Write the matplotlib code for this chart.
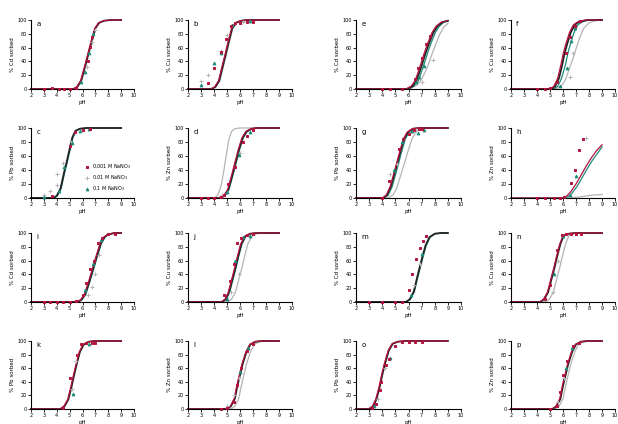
import matplotlib
matplotlib.use("Agg")
import matplotlib.pyplot as plt

# panel layout (row by row, as in the figure)
LAYOUT = [["a", "b", "e", "f"],
          ["c", "d", "g", "h"],
          ["i", "j", "m", "n"],
          ["k", "l", "o", "p"]]

METAL = {"a": "Cd", "b": "Cu", "e": "Cd", "f": "Cu",
         "c": "Pb", "d": "Zn", "g": "Pb", "h": "Zn",
         "i": "Cd", "j": "Cu", "m": "Cd", "n": "Cu",
         "k": "Pb", "l": "Zn", "o": "Pb", "p": "Zn"}

LEGEND_LABELS = ["0.001 M NaNO$_3$", "0.01 M NaNO$_3$", "0.1 M NaNO$_3$"]

# model curves, (pH, % sorbed)
fit_black = {
    "a": ([2, 5.3, 5.6, 5.9, 6.2, 6.45, 6.7, 7.0, 7.3, 7.7, 8.2, 9], [0, 0, 3, 12, 32, 50, 68, 88, 96, 99, 100, 100]),
    "b": ([2, 3.8, 4.1, 4.4, 4.7, 4.9, 5.1, 5.4, 5.7, 6.1, 6.6, 9], [0, 0, 3, 12, 35, 50, 66, 88, 96, 99, 100, 100]),
    "c": ([2, 3.7, 4.0, 4.3, 4.55, 4.75, 4.95, 5.2, 5.45, 5.8, 6.3, 9], [0, 0, 3, 14, 35, 50, 66, 86, 96, 99, 100, 100]),
    "d": ([2, 4.4, 4.8, 5.1, 5.4, 5.65, 5.9, 6.2, 6.5, 6.9, 7.4, 9], [0, 0, 3, 12, 32, 50, 68, 86, 95, 99, 100, 100]),
    "e": ([2, 5.9, 6.3, 6.6, 6.9, 7.1, 7.3, 7.6, 7.9, 8.2, 8.6, 9], [0, 0, 4, 12, 28, 40, 52, 68, 82, 91, 97, 99]),
    "f": ([2, 5.1, 5.4, 5.7, 5.95, 6.1, 6.3, 6.6, 6.9, 7.3, 7.9, 9], [0, 0, 4, 16, 36, 50, 64, 82, 93, 98, 100, 100]),
    "g": ([2, 4.05, 4.35, 4.65, 4.95, 5.15, 5.35, 5.65, 5.95, 6.35, 6.85, 9], [0, 0, 4, 16, 36, 50, 64, 84, 94, 99, 100, 100]),
    "i": ([2, 5.6, 5.9, 6.2, 6.5, 6.85, 7.1, 7.4, 7.7, 8.0, 8.5, 9], [0, 0, 3, 11, 28, 50, 66, 84, 94, 98, 100, 100]),
    "j": ([2, 4.6, 4.9, 5.15, 5.4, 5.65, 5.85, 6.1, 6.4, 6.8, 7.3, 9], [0, 0, 4, 14, 32, 50, 66, 84, 95, 99, 100, 100]),
    "m": ([2, 5.8, 6.1, 6.4, 6.65, 6.85, 7.05, 7.3, 7.6, 8.0, 8.5, 9], [0, 0, 4, 15, 35, 50, 65, 82, 94, 99, 100, 100]),
    "n": ([2, 4.25, 4.55, 4.85, 5.1, 5.35, 5.55, 5.8, 6.05, 6.45, 6.95, 9], [0, 0, 4, 14, 32, 50, 66, 84, 96, 99, 100, 100]),
    "k": ([2, 4.3, 4.6, 4.9, 5.15, 5.35, 5.55, 5.8, 6.1, 6.5, 7.0, 9], [0, 0, 4, 14, 33, 50, 66, 84, 95, 99, 100, 100]),
    "l": ([2, 5.0, 5.3, 5.6, 5.8, 6.0, 6.2, 6.5, 6.8, 7.2, 7.7, 9], [0, 0, 4, 15, 34, 50, 66, 84, 95, 99, 100, 100]),
    "o": ([2, 3.0, 3.3, 3.55, 3.8, 4.0, 4.2, 4.5, 4.8, 5.2, 5.7, 9], [0, 0, 4, 14, 32, 50, 66, 86, 96, 99, 100, 100]),
    "p": ([2, 5.2, 5.5, 5.8, 6.0, 6.2, 6.4, 6.7, 7.0, 7.4, 7.9, 9], [0, 0, 4, 15, 34, 50, 66, 84, 95, 99, 100, 100]),
}
fit_red = {
    "a": ([2, 5.25, 5.55, 5.85, 6.15, 6.4, 6.65, 6.95, 7.25, 7.65, 8.15, 9], [0, 0, 3, 12, 32, 50, 68, 88, 96, 99, 100, 100]),
    "b": ([2, 3.75, 4.05, 4.35, 4.65, 4.85, 5.05, 5.35, 5.65, 6.05, 6.55, 9], [0, 0, 3, 12, 35, 50, 66, 88, 96, 99, 100, 100]),
    "d": ([2, 4.35, 4.75, 5.05, 5.35, 5.6, 5.85, 6.15, 6.45, 6.85, 7.35, 9], [0, 0, 3, 12, 32, 50, 68, 86, 95, 99, 100, 100]),
    "e": ([2, 5.8, 6.2, 6.5, 6.8, 7.0, 7.2, 7.5, 7.8, 8.1, 8.5, 9], [0, 0, 4, 12, 28, 40, 52, 68, 82, 91, 97, 99]),
    "f": ([2, 5.0, 5.3, 5.6, 5.85, 6.0, 6.2, 6.5, 6.8, 7.2, 7.8, 9], [0, 0, 4, 16, 36, 50, 64, 82, 93, 98, 100, 100]),
    "g": ([2, 4.0, 4.3, 4.6, 4.9, 5.1, 5.3, 5.6, 5.9, 6.3, 6.8, 9], [0, 0, 4, 16, 36, 50, 64, 84, 94, 99, 100, 100]),
    "h": ([2, 6.0, 6.3, 6.6, 7.0, 7.4, 7.8, 8.2, 8.6, 9], [0, 0, 3, 9, 20, 33, 46, 58, 68, 76]),
    "i": ([2, 5.55, 5.85, 6.15, 6.45, 6.8, 7.05, 7.35, 7.65, 7.95, 8.45, 9], [0, 0, 3, 11, 28, 50, 66, 84, 94, 98, 100, 100]),
    "j": ([2, 4.55, 4.85, 5.1, 5.35, 5.6, 5.8, 6.05, 6.35, 6.75, 7.25, 9], [0, 0, 4, 14, 32, 50, 66, 84, 95, 99, 100, 100]),
    "n": ([2, 4.2, 4.5, 4.8, 5.05, 5.3, 5.5, 5.75, 6.0, 6.4, 6.9, 9], [0, 0, 4, 14, 32, 50, 66, 84, 96, 99, 100, 100]),
    "k": ([2, 4.25, 4.55, 4.85, 5.1, 5.3, 5.5, 5.75, 6.05, 6.45, 6.95, 9], [0, 0, 4, 14, 33, 50, 66, 84, 95, 99, 100, 100]),
    "l": ([2, 4.95, 5.25, 5.55, 5.75, 5.95, 6.15, 6.45, 6.75, 7.15, 7.65, 9], [0, 0, 4, 15, 34, 50, 66, 84, 95, 99, 100, 100]),
    "o": ([2, 2.95, 3.25, 3.5, 3.75, 3.95, 4.15, 4.45, 4.75, 5.15, 5.65, 9], [0, 0, 4, 14, 32, 50, 66, 86, 96, 99, 100, 100]),
    "p": ([2, 5.15, 5.45, 5.75, 5.95, 6.15, 6.35, 6.65, 6.95, 7.35, 7.85, 9], [0, 0, 4, 15, 34, 50, 66, 84, 95, 99, 100, 100]),
}
fit_teal = {
    "c": ([2, 3.75, 4.05, 4.35, 4.6, 4.8, 5.0, 5.25, 5.5, 5.85, 6.35, 9], [0, 0, 3, 14, 35, 50, 66, 86, 96, 99, 100, 100]),
    "d": ([2, 4.45, 4.85, 5.15, 5.45, 5.7, 5.95, 6.25, 6.55, 6.95, 7.45, 9], [0, 0, 3, 12, 32, 50, 68, 86, 95, 99, 100, 100]),
    "e": ([2, 6.0, 6.4, 6.75, 7.05, 7.25, 7.45, 7.75, 8.05, 8.35, 8.7, 9], [0, 0, 4, 12, 28, 40, 52, 68, 82, 91, 97, 98]),
    "f": ([2, 5.3, 5.6, 5.9, 6.2, 6.35, 6.55, 6.85, 7.15, 7.55, 8.1, 9], [0, 0, 4, 16, 36, 50, 64, 82, 93, 98, 100, 100]),
    "g": ([2, 4.15, 4.45, 4.75, 5.05, 5.25, 5.45, 5.75, 6.05, 6.45, 6.95, 9], [0, 0, 4, 16, 36, 50, 64, 84, 94, 99, 100, 100]),
    "h": ([2, 6.1, 6.4, 6.7, 7.1, 7.5, 7.9, 8.3, 8.7, 9], [0, 0, 2, 7, 17, 30, 43, 55, 65, 73]),
    "i": ([2, 5.65, 5.95, 6.25, 6.55, 6.9, 7.15, 7.45, 7.75, 8.05, 8.55, 9], [0, 0, 3, 11, 28, 50, 66, 84, 94, 98, 100, 100]),
    "j": ([2, 4.65, 4.95, 5.2, 5.45, 5.7, 5.9, 6.15, 6.45, 6.85, 7.35, 9], [0, 0, 4, 14, 32, 50, 66, 84, 95, 99, 100, 100]),
    "m": ([2, 5.85, 6.15, 6.45, 6.7, 6.9, 7.1, 7.35, 7.65, 8.05, 8.55, 9], [0, 0, 4, 15, 35, 50, 65, 82, 94, 99, 100, 100]),
}
fit_gray = {
    "b": ([2, 3.85, 4.15, 4.45, 4.75, 4.95, 5.15, 5.45, 5.75, 6.15, 6.65, 9], [0, 0, 3, 12, 35, 50, 66, 88, 96, 99, 100, 100]),
    "d": ([2, 4.0, 4.3, 4.55, 4.75, 4.85, 4.95, 5.15, 5.35, 5.6, 6.0, 9], [0, 0, 4, 18, 38, 50, 62, 84, 95, 99, 100, 100]),
    "e": ([2, 6.1, 6.6, 7.0, 7.4, 7.6, 7.8, 8.1, 8.4, 8.7, 9], [0, 0, 5, 14, 30, 40, 51, 66, 80, 90, 95]),
    "f": ([2, 5.5, 5.9, 6.2, 6.5, 6.8, 7.0, 7.3, 7.6, 8.0, 8.5, 9], [0, 0, 5, 14, 30, 46, 58, 75, 88, 96, 99, 100]),
    "g": ([2, 4.4, 4.8, 5.1, 5.4, 5.7, 5.95, 6.25, 6.6, 7.0, 7.5, 9], [0, 0, 4, 14, 32, 50, 66, 84, 95, 99, 100, 100]),
    "h": ([2, 6.5, 7.5, 8.2, 9], [0, 0, 2, 4, 5]),
    "j": ([2, 5.05, 5.35, 5.65, 5.9, 6.15, 6.35, 6.6, 6.9, 7.3, 7.8, 9], [0, 0, 4, 14, 32, 50, 66, 84, 95, 99, 100, 100]),
    "n": ([2, 4.65, 4.95, 5.25, 5.5, 5.75, 5.95, 6.2, 6.45, 6.85, 7.35, 9], [0, 0, 4, 14, 32, 50, 66, 84, 96, 99, 100, 100]),
    "l": ([2, 5.3, 5.6, 5.9, 6.1, 6.3, 6.5, 6.8, 7.1, 7.5, 8.0, 9], [0, 0, 4, 15, 34, 50, 66, 84, 95, 99, 100, 100]),
    "p": ([2, 5.4, 5.7, 6.0, 6.2, 6.4, 6.6, 6.9, 7.2, 7.6, 8.1, 9], [0, 0, 4, 15, 34, 50, 66, 84, 95, 99, 100, 100]),
}

# measured data, (pH, % sorbed)
pts_red = {
    "a": ([3.0, 3.6, 4.2, 4.6, 5.0, 5.5, 6.4, 6.55, 6.75], [0, 1, 0, 0, 0, 1, 40, 61, 76]),
    "b": ([3.5, 4.0, 4.5, 4.9, 5.3, 5.6, 6.0, 6.5, 7.0], [8, 30, 53, 72, 92, 95, 96, 97, 97]),
    "c": ([3.6, 5.0, 5.4, 6.0, 6.6], [3, 75, 95, 97, 98]),
    "d": ([3.0, 3.5, 4.0, 4.5, 4.8, 5.1, 5.6, 6.2, 6.5, 7.0], [0, 0, 0, 2, 5, 20, 45, 80, 88, 97]),
    "e": ([4.0, 4.6, 5.5, 6.5, 6.7, 7.0, 7.3, 7.6], [0, 0, 0, 15, 30, 45, 65, 77]),
    "f": ([4.0, 4.6, 5.0, 5.5, 6.2, 6.5, 6.9, 7.3], [0, 0, 2, 10, 52, 75, 92, 98]),
    "g": ([4.0, 4.5, 5.3, 5.6, 6.0, 6.4, 6.8, 7.0], [0, 25, 70, 85, 92, 97, 98, 98]),
    "h": ([4.0, 4.6, 5.3, 5.8, 6.1, 6.6, 6.9, 7.2, 7.5], [0, 0, 0, 0, 2, 22, 40, 68, 85]),
    "i": ([3, 3.5, 4, 4.5, 5, 5.5, 6.0, 6.3, 6.6, 6.9, 7.2, 7.5, 8.0, 8.5], [0, 0, 0, 0, 0, 1, 10, 28, 48, 60, 85, 93, 98, 99]),
    "j": ([4.8, 5.2, 5.5, 5.8, 6.1, 6.5, 7.0], [10, 30, 55, 85, 93, 97, 98]),
    "m": ([3, 4, 5, 5.5, 6.0, 6.3, 6.6, 6.9, 7.1, 7.3], [0, 0, 0, 0, 17, 40, 62, 78, 88, 95]),
    "n": ([4.6, 5.0, 5.5, 5.9, 6.2, 6.6, 7.0, 7.4], [5, 25, 75, 97, 98, 98, 99, 99]),
    "k": ([4.5, 5.0, 5.6, 5.9, 6.3, 6.7, 7.0], [2, 45, 80, 95, 97, 97, 97]),
    "l": ([4.5, 5.0, 5.5, 5.8, 6.1, 6.5, 7.0], [0, 2, 10, 35, 60, 85, 95]),
    "o": ([3.2, 3.5, 3.8, 3.9, 4.3, 4.5, 5.0, 5.5, 6.0, 6.5, 7.0], [2, 8, 28, 40, 65, 73, 92, 98, 99, 99, 99]),
    "p": ([5.0, 5.5, 5.8, 6.0, 6.3, 6.8, 7.2], [0, 5, 25, 50, 70, 92, 97]),
}
pts_gray = {
    "a": ([6.35, 6.7, 6.95], [32, 68, 86]),
    "b": ([3.0, 3.5, 4.5, 5.0, 6.2], [12, 20, 55, 78, 97]),
    "c": ([3.0, 3.5, 4.0, 4.05, 4.5, 5.1], [5, 10, 18, 35, 50, 80]),
    "d": ([4.6, 6.0], [4, 65]),
    "e": ([7.0, 7.9], [10, 42]),
    "f": ([6.5, 6.8], [18, 52]),
    "g": ([4.6, 5.1, 6.1, 6.6], [35, 48, 93, 97]),
    "h": ([7.8], [86]),
    "i": ([6.4, 6.7, 7.0, 7.3], [10, 22, 40, 68]),
    "j": ([5.3, 5.9], [15, 40]),
    "m": ([6.4, 6.9], [25, 55]),
    "n": ([5.2, 5.6], [15, 60]),
    "k": ([5.2, 5.5], [30, 70]),
    "l": ([5.0, 5.5, 5.9], [5, 20, 45]),
    "o": ([3.7, 4.2], [15, 60]),
    "p": ([5.6, 6.1], [10, 45]),
}
pts_teal = {
    "a": ([5.85, 6.2, 6.5, 6.8], [10, 25, 52, 80]),
    "b": ([3.0, 4.0, 4.5, 5.4, 6.8], [6, 38, 52, 93, 98]),
    "c": ([3.0, 4.2, 4.6, 5.2, 5.8, 6.5], [2, 10, 45, 78, 96, 99]),
    "d": ([5.0, 5.9, 6.8], [8, 62, 94]),
    "e": ([6.6, 6.8, 7.2], [10, 18, 33]),
    "f": ([5.8, 6.3, 6.6, 6.9], [5, 30, 70, 88]),
    "g": ([4.9, 5.5, 6.3, 6.7, 7.2], [40, 80, 96, 93, 97]),
    "h": ([6.5, 7.0], [5, 32]),
    "i": ([6.2, 6.8, 7.4], [18, 55, 90]),
    "j": ([5.0, 5.6, 6.2, 6.8], [5, 60, 94, 96]),
    "m": ([6.2, 7.0], [10, 70]),
    "n": ([5.3, 6.0], [40, 95]),
    "k": ([5.3, 6.5], [22, 96]),
    "l": ([6.0, 6.6], [55, 90]),
    "o": ([3.4, 4.6], [5, 75]),
    "p": ([6.2, 6.7], [60, 90]),
}

RED = "#b5123e"
TEAL = "#1e8a7a"
GRAY = "#b4b4b4"
BLACK = "#222222"

# axes boxes in pixels (left, right) and (top, bottom)
COL_X = [(31, 134), (188, 292), (356, 461), (511, 615)]
ROW_Y = [(20, 89), (128, 198), (233, 302), (341, 409)]
W, H = 618, 424

fig = plt.figure(figsize=(W / 100, H / 100), dpi=100)

for r, row in enumerate(LAYOUT):
    for c, key in enumerate(row):
        x0, x1 = COL_X[c]
        y0, y1 = ROW_Y[r]
        ax = fig.add_axes([x0 / W, 1 - y1 / H, (x1 - x0) / W, (y1 - y0) / H])

        for fits, col, lw in [(fit_gray, GRAY, 0.9), (fit_teal, TEAL, 0.9),
                              (fit_black, BLACK, 1.3), (fit_red, RED, 0.9)]:
            if key in fits:
                ax.plot(fits[key][0], fits[key][1], color=col, lw=lw, clip_on=False, zorder=2)

        for pts, col, mk, ms, lab in [(pts_gray, GRAY, "+", 3, LEGEND_LABELS[1]),
                                      (pts_teal, TEAL, "^", 2, LEGEND_LABELS[2]),
                                      (pts_red, RED, "s", 2, LEGEND_LABELS[0])]:
            if key in pts:
                ax.plot(pts[key][0], pts[key][1], ls="none", marker=mk, ms=ms,
                        mew=0.7, color=col, clip_on=False, zorder=3, label=lab)

        ax.set_xlim(2, 10)
        ax.set_ylim(0, 100)
        ax.set_xticks(range(2, 11))
        ax.set_yticks(range(0, 101, 20))
        for s in ["top", "right"]:
            ax.spines[s].set_visible(False)
        for s in ["left", "bottom"]:
            ax.spines[s].set_linewidth(0.8)
        ax.tick_params(labelsize=3.5, length=2, width=0.6, pad=1)
        ax.set_xlabel("pH", fontsize=4, labelpad=1)
        ax.set_ylabel("% " + METAL[key] + " sorbed", fontsize=4, labelpad=1.5)
        ax.text(2.4, 99, key, fontsize=5, va="top", ha="left")

        if key == "c":
            h, l = ax.get_legend_handles_labels()
            order = [2, 0, 1]
            ax.legend([h[i] for i in order], [l[i] for i in order], loc="lower right",
                      fontsize=3.5, frameon=False, handlelength=1, handletextpad=0.5,
                      borderaxespad=0.1, labelspacing=0.45, bbox_to_anchor=(1.0, 0.03))

fig.savefig("out.png", dpi=100)
